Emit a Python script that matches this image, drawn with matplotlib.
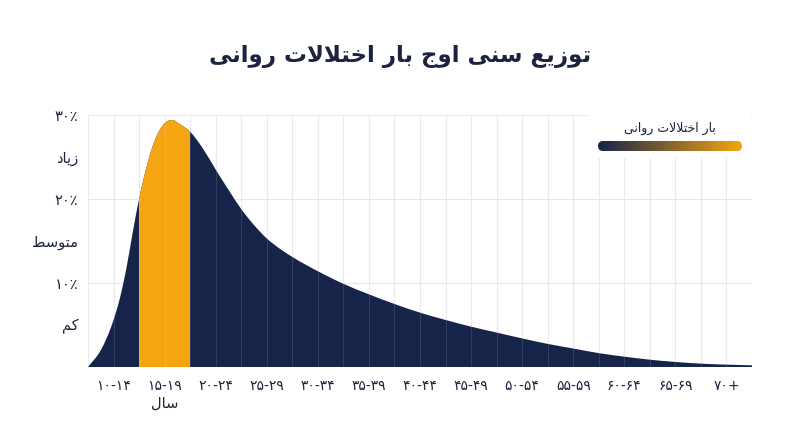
import numpy as np
import matplotlib
matplotlib.use("Agg")
import matplotlib.pyplot as plt
from matplotlib.colors import LinearSegmentedColormap
from matplotlib.patches import FancyBboxPatch, Rectangle, PathPatch
from matplotlib.path import Path

# -----------------------------
# Data
# -----------------------------
TITLE = "توزیع سنی اوج بار اختلالات روانی"
LEGEND_LABEL = "بار اختلالات روانی"
X_UNIT = "سال"

age_groups = ["۱۰-۱۴", "۱۵-۱۹", "۲۰-۲۴", "۲۵-۲۹", "۳۰-۳۴", "۳۵-۳۹", "۴۰-۴۴",
              "۴۵-۴۹", "۵۰-۵۴", "۵۵-۵۹", "۶۰-۶۴", "۶۵-۶۹", "۷۰+"]
peak_group = 1  # ۱۵-۱۹

# position in age-group units (0 = centre of ۱۰-۱۴), burden in %
curve_x = [-0.5, -0.25, 0.0, 0.125, 0.25, 0.375, 0.5, 0.625, 0.75, 0.875, 1.0,
           1.15, 1.3, 1.5, 1.75, 2.0, 2.25, 2.5, 2.75, 3.0, 3.25, 3.5, 4.0,
           4.5, 5.0, 5.5, 6.0, 6.5, 7.0, 7.5, 8.0, 8.5, 9.0, 9.5, 10.0, 10.5,
           11.0, 11.5, 12.0, 12.5]
curve_y = [0.0, 2.0, 5.6, 8.2, 11.7, 16.0, 20.0, 23.3, 26.0, 27.9, 29.0,
           29.4, 28.9, 28.0, 26.0, 23.5, 21.1, 18.8, 16.9, 15.3, 14.1, 13.1, 11.4,
           9.9, 8.65, 7.5, 6.47, 5.6, 4.8, 4.1, 3.4, 2.75, 2.2, 1.65, 1.23, 0.87,
           0.6, 0.4, 0.28, 0.2]

y_ticks = [5, 10, 15, 20, 25, 30]
y_labels = ["کم", "۱۰٪", "متوسط", "۲۰٪", "زیاد", "۳۰٪"]
y_grid = [10, 20, 30]

NAVY = "#16244a"
ORANGE = "#f5a511"
TEXT = "#1b2340"
GRID = "#e8e8ec"

# -----------------------------
# Minimal Persian shaping (matplotlib has no bidi / joining)
# -----------------------------
FORMS = {
    "ا": ("\uFE8D", "\uFE8E"),
    "ب": ("\uFE8F", "\uFE90", "\uFE91", "\uFE92"),
    "ت": ("\uFE95", "\uFE96", "\uFE97", "\uFE98"),
    "ج": ("\uFE9D", "\uFE9E", "\uFE9F", "\uFEA0"),
    "خ": ("\uFEA5", "\uFEA6", "\uFEA7", "\uFEA8"),
    "د": ("\uFEA9", "\uFEAA"),
    "ر": ("\uFEAD", "\uFEAE"),
    "ز": ("\uFEAF", "\uFEB0"),
    "س": ("\uFEB1", "\uFEB2", "\uFEB3", "\uFEB4"),
    "ط": ("\uFEC1", "\uFEC2", "\uFEC3", "\uFEC4"),
    "ع": ("\uFEC9", "\uFECA", "\uFECB", "\uFECC"),
    "ک": ("\uFB8E", "\uFB8F", "\uFB90", "\uFB91"),
    "ل": ("\uFEDD", "\uFEDE", "\uFEDF", "\uFEE0"),
    "م": ("\uFEE1", "\uFEE2", "\uFEE3", "\uFEE4"),
    "ن": ("\uFEE5", "\uFEE6", "\uFEE7", "\uFEE8"),
    "و": ("\uFEED", "\uFEEE"),
    "ی": ("\uFBFC", "\uFBFD", "\uFBFE", "\uFBFF"),
}


def shape_fa(text):
    words = []
    for w in text.split(" "):
        res = []
        prev_joins = False
        i = 0
        while i < len(w):
            c = w[i]
            forms = FORMS.get(c)
            if forms is None:
                res.append(c)
                prev_joins = False
                i += 1
                continue
            if c == "ل" and i + 1 < len(w) and w[i + 1] == "ا":
                res.append("\uFEFC" if prev_joins else "\uFEFB")
                prev_joins = False
                i += 2
                continue
            dual = len(forms) == 4
            nxt = w[i + 1] if i + 1 < len(w) else None
            next_joins = dual and nxt in FORMS
            if prev_joins and next_joins:
                g = forms[3]
            elif prev_joins:
                g = forms[1]
            elif next_joins:
                g = forms[2]
            else:
                g = forms[0]
            res.append(g)
            prev_joins = dual
            i += 1
        words.append("".join(res))
    return " ".join(words)[::-1]


def label(s):
    # digits / percent stay left-to-right, words get shaped
    return shape_fa(s) if any(ch in FORMS for ch in s) else s


def smooth_area(xs, ys):
    # closed area under a smooth (Hermite -> Bezier) curve through the points
    xs = np.asarray(xs, float)
    ys = np.asarray(ys, float)
    m = np.gradient(ys, xs)
    verts = [(xs[0], 0.0), (xs[0], ys[0])]
    codes = [Path.MOVETO, Path.LINETO]
    for i in range(len(xs) - 1):
        h = xs[i + 1] - xs[i]
        verts += [(xs[i] + h / 3, ys[i] + m[i] * h / 3),
                  (xs[i + 1] - h / 3, ys[i + 1] - m[i + 1] * h / 3),
                  (xs[i + 1], ys[i + 1])]
        codes += [Path.CURVE4] * 3
    verts += [(xs[-1], 0.0), (xs[0], 0.0)]
    codes += [Path.LINETO, Path.CLOSEPOLY]
    return Path(verts, codes)


plt.rcParams["font.family"] = ["DejaVu Sans"]

# -----------------------------
# Plot
# -----------------------------
fig = plt.figure(figsize=(8, 4.47), dpi=100)
ax = fig.add_axes([0.11, 0.179, 0.83, 0.5638])

n = len(age_groups)
area = smooth_area(curve_x, curve_y)

ax.add_patch(PathPatch(area, facecolor=NAVY, edgecolor="none", zorder=2))
band = PathPatch(area, facecolor=ORANGE, edgecolor="none", zorder=3)
ax.add_patch(band)
band_clip = Rectangle((peak_group - 0.5, 0), 1, 40, transform=ax.transData,
                      facecolor="none", edgecolor="none")
ax.add_patch(band_clip)
band.set_clip_path(band_clip)

# grid: lines at group centres and boundaries
for v in np.arange(-0.5, n - 0.5 + 0.01, 0.5):
    ax.axvline(v, color=GRID, lw=0.8, zorder=1)
    ax.axvline(v, color="white", alpha=0.12, lw=0.8, zorder=4)
for h in y_grid:
    ax.axhline(h, color=GRID, lw=0.8, zorder=1)

ax.set_xlim(-0.5, n - 0.5)
ax.set_ylim(0, 30)

ax.set_xticks(range(n))
ax.set_xticklabels(age_groups, fontsize=10, color=TEXT)
ax.set_yticks(y_ticks)
ax.set_yticklabels([label(s) for s in y_labels], fontsize=10.5, color=TEXT)
ax.tick_params(length=0)
ax.tick_params(axis="x", pad=9)
ax.tick_params(axis="y", pad=7)
for s in ax.spines.values():
    s.set_visible(False)

ax.text(peak_group, -0.143, shape_fa(X_UNIT), transform=ax.get_xaxis_transform(),
        ha="center", va="center", fontsize=10.5, color=TEXT)

# legend box
ax.add_patch(Rectangle((0.753, 0.829), 0.245, 0.169, transform=ax.transAxes,
                       facecolor="white", edgecolor="none", zorder=5))
fig.text(670 / 800, 1 - 128 / 447, shape_fa(LEGEND_LABEL), ha="center", va="center",
         fontsize=9, color=TEXT)

bar_ax = fig.add_axes([598 / 800, (447 - 151) / 447, 144 / 800, 10 / 447])
cmap = LinearSegmentedColormap.from_list("burden", [NAVY, ORANGE])
im = bar_ax.imshow(np.linspace(0, 1, 256)[None, :], cmap=cmap, aspect="auto",
                   extent=[0, 144, 0, 10])
bar_ax.set_xlim(0, 144)
bar_ax.set_ylim(0, 10)
clip = FancyBboxPatch((0, 0), 144, 10, boxstyle="round,pad=0,rounding_size=5",
                      transform=bar_ax.transData, facecolor="none", edgecolor="none")
bar_ax.add_patch(clip)
im.set_clip_path(clip)
bar_ax.axis("off")

fig.text(0.5, 1 - 57 / 447, shape_fa(TITLE), ha="center", va="center",
         fontsize=16.5, fontweight="bold", color=TEXT)

fig.savefig("out.png", dpi=100, facecolor="white")
